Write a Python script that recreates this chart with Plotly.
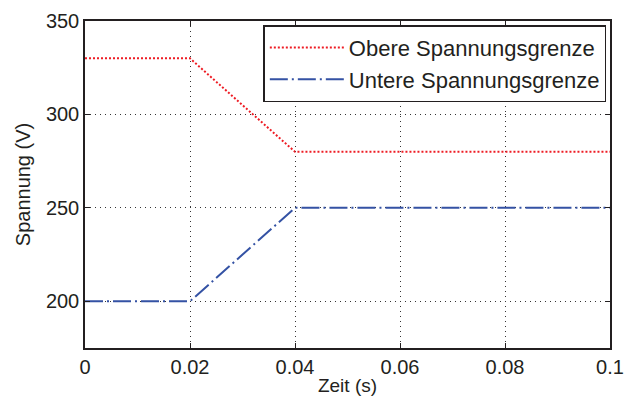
import plotly.graph_objects as go

# Zeitpunkte und Spannungsgrenzen
zeit = [0.0, 0.02, 0.04, 0.1]
obere_grenze = [330, 330, 280, 280]
untere_grenze = [200, 200, 250, 250]

x_ticks = [0, 0.02, 0.04, 0.06, 0.08, 0.1]
x_tick_labels = ["0", "0.02", "0.04", "0.06", "0.08", "0.1"]
y_ticks = [200, 250, 300, 350]

font_family = "Liberation Sans, Arial, Helvetica, sans-serif"
text_color = "#231f20"

fig = go.Figure()
fig.add_trace(go.Scatter(
    x=zeit, y=obere_grenze, mode="lines", name="Obere Spannungsgrenze",
    line=dict(color="#ee1c24", width=2, dash="2px,2px"),
))
fig.add_trace(go.Scatter(
    x=zeit, y=untere_grenze, mode="lines", name="Untere Spannungsgrenze",
    line=dict(color="#3452a4", width=2, dash="18px,4px,2px,4px"),
))

axis_common = dict(
    showline=True, linecolor=text_color, linewidth=1.5, mirror="ticks",
    ticks="inside", ticklen=5, tickcolor=text_color, tickwidth=1,
    showgrid=True, gridcolor="#333333", gridwidth=1, griddash="1px,4px",
    zeroline=False, automargin=False,
    tickfont=dict(family=font_family, size=20, color=text_color),
)

fig.update_xaxes(
    range=[0, 0.1], tickvals=x_ticks, ticktext=x_tick_labels,
    title=dict(text="Zeit (s)", standoff=2,
               font=dict(family=font_family, size=19, color=text_color)),
    **axis_common,
)
fig.update_yaxes(
    range=[175, 350], tickvals=y_ticks,
    title=dict(text="Spannung (V)", standoff=10,
               font=dict(family=font_family, size=20, color=text_color)),
    **axis_common,
)

fig.update_layout(
    width=628, height=398,
    margin=dict(l=85, r=18, t=21, b=50),
    plot_bgcolor="white", paper_bgcolor="white",
    legend=dict(
        x=0.993, y=0.987, xanchor="right", yanchor="top",
        bordercolor=text_color, borderwidth=1.5, bgcolor="white",
        font=dict(family=font_family, size=22, color=text_color),
        itemwidth=74, tracegroupgap=0,
    ),
)

fig.write_html("out.html")
